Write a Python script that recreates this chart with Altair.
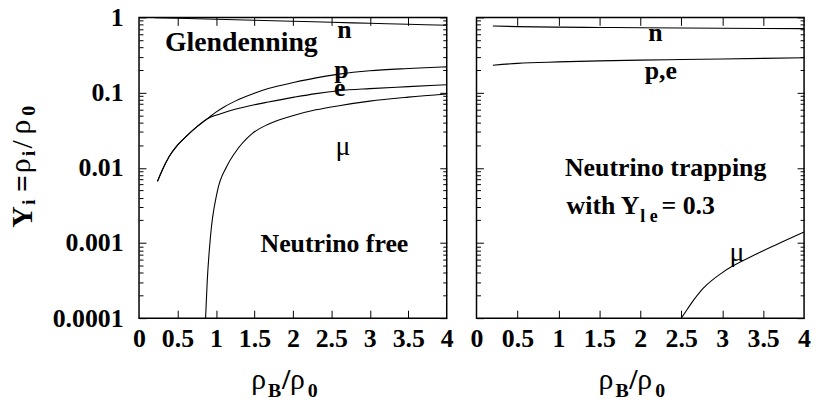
import altair as alt
import pandas as pd

# ---------------- data ----------------
# Left panel: Glendenning, neutrino free
L_n_x = [0.2, 0.5, 1.0, 1.5, 2.0, 2.5, 3.0, 3.5, 4.0]
L_n_y = [0.99, 0.975, 0.945, 0.915, 0.89, 0.86, 0.835, 0.81, 0.785]
L_p_x = [0.24, 0.3, 0.39, 0.5, 0.61, 0.75, 0.89, 1.0, 1.1, 1.25, 1.5, 1.68, 2.02, 2.3, 2.6, 3.0, 3.5, 4.0]
L_p_y = [0.0066, 0.0092, 0.014, 0.020, 0.026, 0.035, 0.045, 0.055, 0.064, 0.077, 0.098, 0.113, 0.137, 0.157, 0.176, 0.195, 0.209, 0.22]
L_e_x = [0.24, 0.3, 0.39, 0.5, 0.61, 0.75, 0.89, 1.0, 1.1, 1.25, 1.5, 1.68, 2.02, 2.3, 2.6, 3.0, 3.5, 4.0]
L_e_y = [0.0066, 0.0092, 0.014, 0.020, 0.026, 0.035, 0.045, 0.050, 0.054, 0.060, 0.069, 0.075, 0.087, 0.097, 0.106, 0.113, 0.120, 0.127]
L_mu_x = [0.865, 0.886, 0.93, 1.015, 1.14, 1.25, 1.47, 1.68, 2.02, 2.3, 2.6, 3.0, 3.5, 4.0]
L_mu_y = [0.0001, 0.0003, 0.00125, 0.0047, 0.0104, 0.016, 0.0285, 0.038, 0.050, 0.059, 0.067, 0.077, 0.087, 0.096]

# Right panel: neutrino trapping, Y_le = 0.3
R_n_x = [0.2, 0.5, 1.0, 1.5, 2.0, 2.5, 3.0, 3.5, 4.0]
R_n_y = [0.77, 0.755, 0.742, 0.735, 0.728, 0.722, 0.717, 0.713, 0.71]
R_pe_x = [0.2, 0.5, 1.0, 1.5, 2.0, 2.5, 3.0, 3.5, 4.0]
R_pe_y = [0.231, 0.245, 0.256, 0.264, 0.27, 0.275, 0.28, 0.285, 0.29]
R_mu_x = [2.5, 2.55, 2.61, 2.77, 3.01, 3.38, 3.66, 4.0]
R_mu_y = [0.0001, 0.00012, 0.00015, 0.00025, 0.00041, 0.00068, 0.00095, 0.0014]

# axis ticks
X_TICKS = [0, 0.5, 1, 1.5, 2, 2.5, 3, 3.5, 4]
X_INNER = [0.5, 1, 1.5, 2, 2.5, 3, 3.5]
Y_MAJOR = [0.0001, 0.001, 0.01, 0.1, 1]
Y_MINOR = [round(k * 10.0 ** e, 6) for e in range(-4, 0) for k in range(2, 10)]

# annotation labels (data coordinates)
L_big_t = ["Glendenning"]
L_big_x = [1.33]
L_big_y = [0.357]
L_bold_t = ["n", "p", "e", "Neutrino free"]
L_bold_x = [2.67, 2.63, 2.61, 2.54]
L_bold_y = [0.535, 0.157, 0.091, 0.00077]
L_greek_t = ["μ"]
L_greek_x = [2.65]
L_greek_y = [0.0148]

R_bold_t = ["n", "p,e", "Neutrino trapping"]
R_bold_x = [2.185, 2.25, 2.31]
R_bold_y = [0.49, 0.151, 0.0077]
R_greek_t = ["μ"]
R_greek_x = [3.18]
R_greek_y = [0.00058]
R_with_t = ["with Y"]
R_with_x = [1.99]
R_with_y = [0.00241]
R_sub_t = ["l e"]
R_sub_x = [2.0]
R_sub_y = [0.00189]
R_eq_t = ["= 0.3"]
R_eq_x = [2.26]
R_eq_y = [0.00241]

# ---------------- chart ----------------
FONT = "Liberation Serif"
W_L, W_R, H = 310, 330, 303
xscale = alt.Scale(domain=[0, 4], nice=False, zero=False)
yscale = alt.Scale(type="log", domain=[0.0001, 1], nice=False)


def lines_df(series):
    rows = []
    for name, (xs, ys) in series.items():
        for x, y in zip(xs, ys):
            rows.append({"x": x, "y": y, "s": name})
    return pd.DataFrame(rows)


def text_df(ts, xs, ys):
    return pd.DataFrame({"t": ts, "x": xs, "y": ys})


def text_layer(df, size, weight, align):
    return alt.Chart(df).mark_text(
        font=FONT, fontSize=size, fontWeight=weight, align=align,
        baseline="alphabetic", color="black"
    ).encode(
        x=alt.X("x:Q", scale=xscale, axis=None),
        y=alt.Y("y:Q", scale=yscale, axis=None),
        text="t:N",
    )


one = pd.DataFrame({"a": [0]})


def seg(text, px, py, size, weight, angle=0):
    kw = dict(text=text, font=FONT, fontSize=size, fontWeight=weight,
              align="left", baseline="alphabetic", color="black")
    if angle:
        kw["angle"] = angle
    return alt.Chart(one).mark_text(**kw).encode(x=alt.value(px), y=alt.value(py))


def xtitle(x0):
    return [
        seg("ρ", x0, 374, 30, "normal"),
        seg("B", x0 + 17, 382, 20, "bold"),
        seg("/", x0 + 31, 374, 30, "bold"),
        seg("ρ", x0 + 39, 374, 30, "normal"),
        seg("0", x0 + 57, 382, 20, "bold"),
    ]


def ytitle():
    return [
        seg("Y", -108, 212, 30, "bold", 270),
        seg("i", -105, 189, 20, "bold", 270),
        seg("=", -108, 176, 30, "bold", 270),
        seg("ρ", -110, 157, 30, "normal", 270),
        seg("i", -105, 140, 20, "bold", 270),
        seg("/", -108, 132, 30, "normal", 270),
        seg("ρ", -110, 118, 30, "normal", 270),
        seg("0", -105, 99, 20, "bold", 270),
    ]


def panel(df, W, show_ylabels, texts, titles):
    base = alt.Chart(df)
    x_lab = alt.Axis(values=X_TICKS, labelExpr="'' + datum.value", ticks=False, domain=False,
                     grid=False, title=None, orient="bottom", labelFont=FONT,
                     labelFontWeight="bold", labelFontSize=26, labelColor="black",
                     labelPadding=8, labelFlush=False, labelOverlap=False)
    if show_ylabels:
        y_ax = alt.Axis(values=Y_MAJOR, labelExpr="'' + datum.value", ticks=False, domain=False,
                        grid=False, title=None, orient="left", labelFont=FONT,
                        labelFontWeight="bold", labelFontSize=26, labelColor="black",
                        labelPadding=16, labelOverlap=False, labelFlush=False)
    else:
        y_ax = None
    lines = base.mark_line(color="black", strokeWidth=1.1, interpolate="monotone").encode(
        x=alt.X("x:Q", scale=xscale, axis=x_lab),
        y=alt.Y("y:Q", scale=yscale, axis=y_ax),
        detail="s:N",
    )

    def yticks(orient, values, size):
        ax = alt.Axis(orient=orient, offset=-W, values=values, tickSize=size, labels=False,
                      domain=False, grid=False, title=None, tickColor="black", tickWidth=1)
        return base.mark_line(strokeOpacity=0).encode(
            x=alt.X("x:Q", scale=xscale, axis=None),
            y=alt.Y("y:Q", scale=yscale, axis=ax), detail="s:N")

    def xticks(orient):
        ax = alt.Axis(orient=orient, offset=-H, values=X_INNER, tickSize=8, labels=False,
                      domain=False, grid=False, title=None, tickColor="black", tickWidth=1)
        return base.mark_line(strokeOpacity=0).encode(
            x=alt.X("x:Q", scale=xscale, axis=ax),
            y=alt.Y("y:Q", scale=yscale, axis=None), detail="s:N")

    layers = [
        lines,
        yticks("right", Y_MAJOR, 7), yticks("right", Y_MINOR, 4),
        yticks("left", Y_MAJOR, 7), yticks("left", Y_MINOR, 4),
        xticks("top"), xticks("bottom"),
    ] + texts + titles
    return alt.layer(*layers).resolve_axis(x="independent", y="independent").properties(
        width=W, height=H)


left_df = lines_df({"n": (L_n_x, L_n_y), "p": (L_p_x, L_p_y),
                    "e": (L_e_x, L_e_y), "mu": (L_mu_x, L_mu_y)})
right_df = lines_df({"n": (R_n_x, R_n_y), "pe": (R_pe_x, R_pe_y), "mu": (R_mu_x, R_mu_y)})

left_texts = [
    text_layer(text_df(L_big_t, L_big_x, L_big_y), 28, "bold", "center"),
    text_layer(text_df(L_bold_t, L_bold_x, L_bold_y), 26, "bold", "center"),
    text_layer(text_df(L_greek_t, L_greek_x, L_greek_y), 28, "normal", "center"),
]
right_texts = [
    text_layer(text_df(R_bold_t, R_bold_x, R_bold_y), 26, "bold", "center"),
    text_layer(text_df(R_greek_t, R_greek_x, R_greek_y), 28, "normal", "center"),
    text_layer(text_df(R_with_t, R_with_x, R_with_y), 26, "bold", "right"),
    text_layer(text_df(R_sub_t, R_sub_x, R_sub_y), 18, "bold", "left"),
    text_layer(text_df(R_eq_t, R_eq_x, R_eq_y), 26, "bold", "left"),
]

left = panel(left_df, W_L, True, left_texts, ytitle() + xtitle(113))
right = panel(right_df, W_R, False, right_texts, xtitle(123))

chart = alt.hconcat(left, right, spacing=30, bounds="flush").properties(
    padding={"left": -3, "top": -6, "right": 0, "bottom": 0}
).configure_view(stroke="black", strokeWidth=1.5)

chart.save("out.html", embed_options={"renderer": "svg", "actions": False})
